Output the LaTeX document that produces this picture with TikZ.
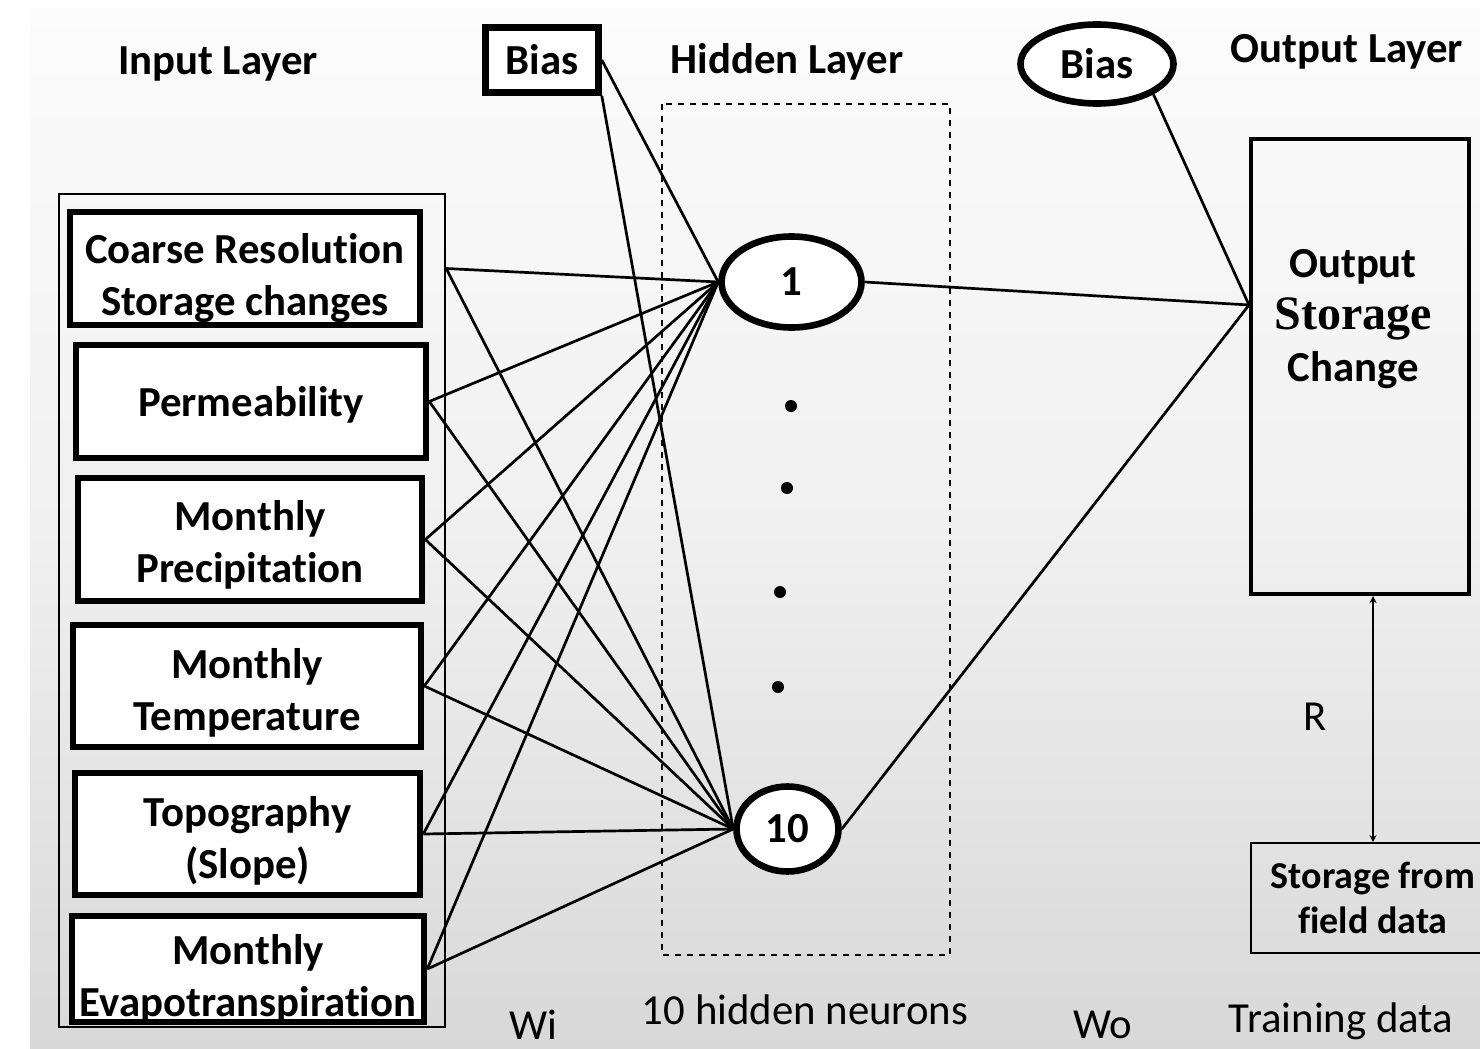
\documentclass[tikz,border=0pt]{standalone}
\usepackage{fontspec}
\setmainfont{Carlito}[Ligatures=NoCommon]
\newfontfamily\cambr{Liberation Serif}
\usetikzlibrary{shapes.geometric}
\definecolor{bgtop}{HTML}{FCFCFC}
\definecolor{bgmid}{HTML}{F0F0F0}
\definecolor{bgbot}{HTML}{D8D8D8}

\begin{document}
\begin{tikzpicture}[x=0.5pt, y=-0.5pt,
    txt/.style={font=\fontsize{21.4}{26}\selectfont},
    btxt/.style={font=\fontsize{21.4}{26}\selectfont\bfseries},
    inbox/.style={btxt, draw, line width=3.3pt, fill=white, align=center, inner sep=0pt, text depth=0pt},
    neuron/.style={btxt, draw, ellipse, line width=3.3pt, fill=white, inner sep=0pt},
    link/.style={line width=1.35pt}]

    \useasboundingbox (0,0) rectangle (1480,1049);

    % Background
    \shade[top color=bgtop, bottom color=bgbot, middle color=bgmid] (30,8) rectangle (1480,1049);

    % Layer titles
    \node[btxt] (inlay) at (218,64) {Input Layer};
    \node[btxt] (hidlay) at (787,62) {Hidden Layer};
    \node[btxt] (outlay) at (1347,52) {Output Layer};

    % Bias units
    \node[btxt, draw, line width=3.3pt, fill=white, inner sep=0pt, minimum width=56.5pt, minimum height=32.5pt] (hbias) at (542,60) {Bias};
    \node[neuron, minimum width=76.5pt, minimum height=39.5pt] (obias) at (1097,64) {Bias};

    % Hidden layer frame
    \draw[dashed, line width=0.7pt] (662,104) rectangle (950,955);

    % Input frame and inputs
    \node[draw, line width=1.2pt, minimum width=193pt, minimum height=416.5pt] (inframe) at (252,610.5) {};
    \node[inbox, minimum width=175pt, minimum height=56.5pt, text height=47pt] (coarse) at (245,268.5) {Coarse Resolution\\Storage changes};
    \node[inbox, minimum width=175pt, minimum height=56.5pt] (perm) at (251,401.5) {Permeability};
    \node[inbox, minimum width=172pt, minimum height=61.5pt, text height=43pt] (precip) at (250,539.5) {Monthly\\Precipitation};
    \node[inbox, minimum width=174pt, minimum height=61pt, text height=44pt] (temp) at (247,686) {Monthly\\Temperature};
    \node[inbox, minimum width=172.5pt, minimum height=61pt, text height=44pt] (topo) at (247.5,834) {Topography\\(Slope)};
    \node[inbox, minimum width=176pt, minimum height=53pt, text height=47pt] (evap) at (248,969) {Monthly\\Evapotranspiration};

    % Hidden neurons
    \node[neuron, minimum width=70pt, minimum height=45.5pt] (n1) at (791.5,282) {1};
    \node[neuron, minimum width=51pt, minimum height=42.5pt] (n10) at (787.5,829) {10};
    \foreach \x/\y in {791/406, 787/488, 780/592, 778/687}
        \fill (\x,\y) circle (3pt);

    % Output
    \node[draw, line width=2pt, minimum width=109pt, minimum height=227.5pt] (out) at (1360,366.5) {};
    \node[btxt, align=center] (outtxt) at (1353,319) {Output\\{\cambr\fontsize{24}{26}\selectfont Storage}\\Change};
    \coordinate (oin) at (1249,305);

    % Training data
    \node[draw, line width=0.8pt, minimum width=122pt, minimum height=55pt, align=center,
        font=\fontsize{19}{22.5}\selectfont\bfseries] (field) at (1373,898) {Storage from\\field data};
    \draw[<->, >=stealth, line width=0.6pt] (field.north) -- (field.north |- out.south);
    \node[txt] (rlbl) at (1315,717) {R};

    % Bottom labels
    \node[txt] (wi) at (533,1025) {Wi};
    \node[txt] (hidn) at (805,1010) {10 hidden neurons};
    \node[txt] (wo) at (1103,1025) {Wo};
    \node[txt] (train) at (1341,1021) {Training data};

    % Weights input -> hidden
    \coordinate (cr) at (inframe.east |- coarse.east);
    \foreach \s in {cr, perm.east, precip.east, temp.east, topo.east, evap.east} {
        \draw[link] (\s) -- (n1.west);
        \draw[link] (\s) -- (n10.west);
    }
    \draw[link] (hbias.east) -- (n1.west);
    \draw[link] (hbias.south east) -- (n10.west);

    % Weights hidden -> output
    \draw[link] (n1.east) -- (oin);
    \draw[link] (n10.east) -- (oin);
    \draw[link] (obias.south east) -- (oin);
\end{tikzpicture}
\end{document}
